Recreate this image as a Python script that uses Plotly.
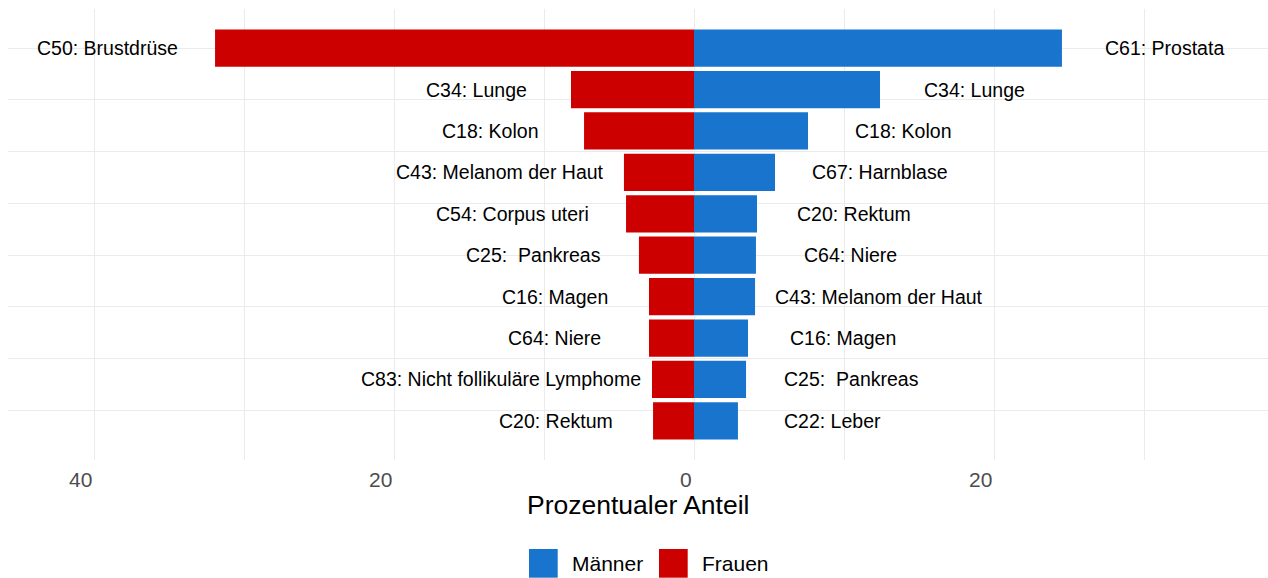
import plotly.graph_objects as go

# ---------------- data ----------------
ranks = [10, 9, 8, 7, 6, 5, 4, 3, 2, 1]

women_labels = ["C50: Brustdrüse", "C34: Lunge", "C18: Kolon", "C43: Melanom der Haut",
                "C54: Corpus uteri", "C25:  Pankreas", "C16: Magen", "C64: Niere",
                "C83: Nicht follikuläre Lymphome", "C20: Rektum"]
women_values = [31.93, 8.2, 7.33, 4.67, 4.53, 3.67, 3.0, 3.0, 2.8, 2.73]

men_labels = ["C61: Prostata", "C34: Lunge", "C18: Kolon", "C67: Harnblase", "C20: Rektum",
              "C64: Niere", "C43: Melanom der Haut", "C16: Magen", "C25:  Pankreas", "C22: Leber"]
men_values = [24.53, 12.4, 7.6, 5.4, 4.2, 4.13, 4.07, 3.6, 3.47, 2.93]

x_tick_vals = [-40, -20, 0, 20]
x_tick_text = ["40", "20", "0", "20"]
x_minor_vals = [-30, -10, 10, 30]
y_major_vals = [2.5, 5, 7.5, 10]
y_minor_vals = [1.25, 3.75, 6.25, 8.75]

series_names = ["Männer", "Frauen"]
colors = {"Männer": "#1874CD", "Frauen": "#CD0000"}

FONT = "Liberation Sans, Arial, Helvetica, sans-serif"
W, H = 1268, 578
ML, MR, MT, MB = 8, 0, 9, 118


def px_x(p):
    return (p - ML) / (W - ML - MR)


def px_y(p):
    return (H - MB - p) / (H - MT - MB)


def label_pos(v, lab):
    return v + 4.5 + 0.18 * len(lab)


fig = go.Figure()

fig.add_trace(go.Bar(
    x=[-v for v in women_values], y=ranks, orientation="h", width=0.9,
    marker=dict(color=colors["Frauen"], line=dict(width=0)), name="Frauen",
    showlegend=False, hoverinfo="skip"))
fig.add_trace(go.Bar(
    x=men_values, y=ranks, orientation="h", width=0.9,
    marker=dict(color=colors["Männer"], line=dict(width=0)), name="Männer",
    showlegend=False, hoverinfo="skip"))

annotations = []
# bar labels
for sign, vals, labs in [(-1, women_values, women_labels), (1, men_values, men_labels)]:
    for r, v, l in zip(ranks, vals, labs):
        annotations.append(dict(x=sign * label_pos(v, l), xref="x", y=r, yref="y",
                                text=l, showarrow=False, xanchor="center",
                                yanchor="middle",
                                font=dict(family=FONT, size=19.5, color="black")))
# x tick labels (right-aligned at tick)
for v, t in zip(x_tick_vals, x_tick_text):
    annotations.append(dict(x=v, xref="x", y=px_y(479), yref="paper", text=t,
                            showarrow=False, xanchor="right", yanchor="middle",
                            font=dict(family=FONT, size=21, color="#4D4D4D")))
# axis title
annotations.append(dict(x=0.5, xref="paper", y=px_y(505), yref="paper",
                        text="Prozentualer Anteil", showarrow=False,
                        xanchor="center", yanchor="middle",
                        font=dict(family=FONT, size=26.5, color="black")))

# manual legend
shapes = []
legend_items = [("Männer", 529, 570), ("Frauen", 659, 700)]
for name, kx, tx in legend_items:
    shapes.append(dict(type="rect", xref="paper", yref="paper",
                       x0=px_x(kx), x1=px_x(kx + 28.7), y0=px_y(577.7), y1=px_y(549),
                       fillcolor=colors[name], line=dict(width=0)))
    annotations.append(dict(x=px_x(tx), xref="paper", y=px_y(563), yref="paper",
                            text=name, showarrow=False, xanchor="left", yanchor="middle",
                            font=dict(family=FONT, size=21, color="black")))

fig.update_layout(
    width=W, height=H,
    margin=dict(l=ML, r=MR, t=MT, b=MB),
    paper_bgcolor="white", plot_bgcolor="white",
    barmode="overlay", showlegend=False,
    annotations=annotations, shapes=shapes,
    xaxis=dict(range=[(ML - 694) / 15, (W - MR - 694) / 15],
               tickvals=x_tick_vals, showticklabels=False, ticks="",
               showgrid=True, gridcolor="#EBEBEB", gridwidth=1.1,
               zeroline=False, showline=False,
               minor=dict(tickvals=x_minor_vals, showgrid=True,
                          gridcolor="#EBEBEB", gridwidth=0.6, ticks="")),
    yaxis=dict(range=[0.055, 10.945], tickvals=y_major_vals, showticklabels=False,
               ticks="", showgrid=True, gridcolor="#EBEBEB", gridwidth=1.1,
               zeroline=False, showline=False,
               minor=dict(tickvals=y_minor_vals, showgrid=True,
                          gridcolor="#EBEBEB", gridwidth=0.6, ticks="")),
)

fig.write_html("out.html", config={"displayModeBar": False},
               post_script="document.body.style.margin='0';document.body.style.overflow='hidden';")
